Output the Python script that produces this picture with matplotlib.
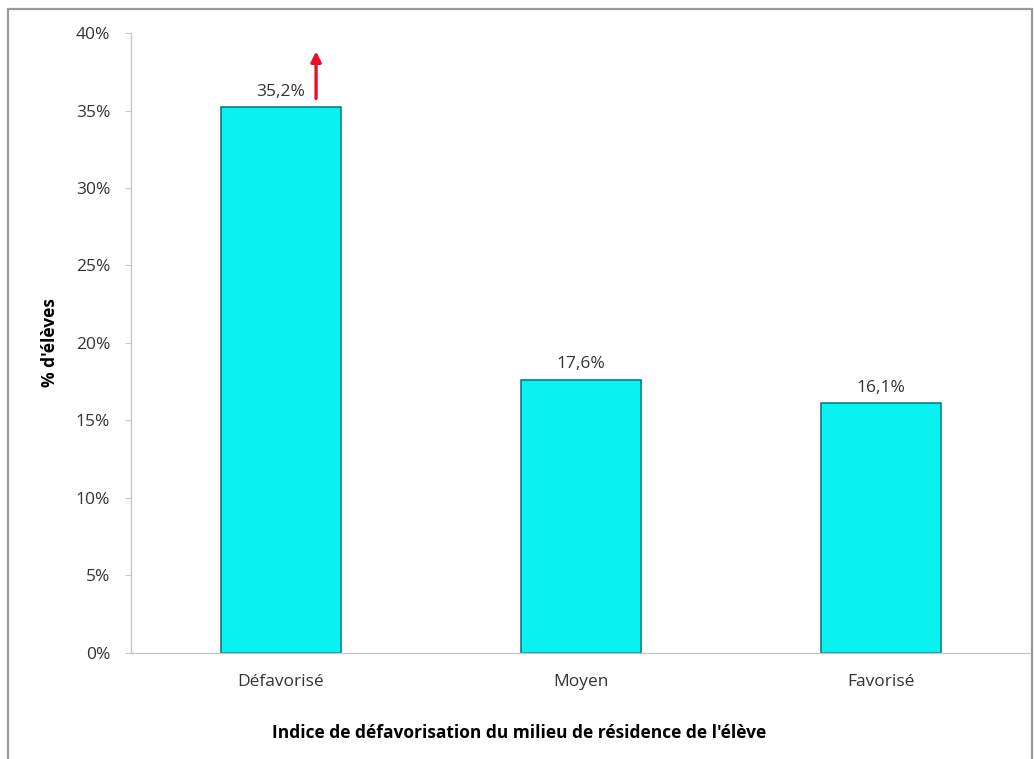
import matplotlib
matplotlib.use("Agg")
import matplotlib.pyplot as plt
from matplotlib.patches import Rectangle
from matplotlib.ticker import MultipleLocator, FuncFormatter

plt.rcParams['font.family'] = ['Open Sans', 'DejaVu Sans']

# Données
categories = ["Défavorisé", "Moyen", "Favorisé"]
valeurs = [35.2, 17.6, 16.1]
y_max = 40

fig = plt.figure(figsize=(10.34, 7.59), dpi=100)
ax = fig.add_axes([0.1267, 0.1397, 0.8703, 0.8168])

# Cadre gris autour du graphique
fig.patches.append(Rectangle((0.0077, -0.02), 0.9903, 1.008, transform=fig.transFigure,
                             fill=False, edgecolor="#9a9a9a", linewidth=1.6))

x = range(len(categories))
bars = ax.bar(x, valeurs, width=0.4, color="#08F2F2", edgecolor="#0b7f86", linewidth=1.2)

# Étiquettes de valeurs
for b, v in zip(bars, valeurs):
    ax.text(b.get_x() + b.get_width() / 2, v + 0.5, f"{v:.1f}%".replace(".", ","),
            ha="center", va="bottom", fontsize=12.5, color="#333333")

# Flèche rouge au-dessus de la première barre
ax.annotate("", xy=(0.117, 39.0), xytext=(0.117, 35.6),
            arrowprops=dict(arrowstyle="-|>", color="#e8102a", lw=2.4, mutation_scale=15))

ax.set_xlim(-0.5, len(categories) - 0.5)
ax.set_ylim(0, y_max)
ax.yaxis.set_major_locator(MultipleLocator(5))
ax.yaxis.set_major_formatter(FuncFormatter(lambda v, p: f"{v:.0f}%"))
ax.set_xticks(list(x))
ax.set_xticklabels(categories)

for side in ("top", "right"):
    ax.spines[side].set_visible(False)
for side in ("left", "bottom"):
    ax.spines[side].set_color("#c8c8c8")
    ax.spines[side].set_linewidth(1.0)

ax.tick_params(axis="y", direction="out", length=4, color="#c8c8c8",
               labelsize=12.5, labelcolor="#333333", pad=11)
ax.tick_params(axis="x", length=0, labelsize=12.5, labelcolor="#333333", pad=15)

ax.set_ylabel("% d'élèves", fontsize=12.5, fontweight="bold", labelpad=12)
ax.set_xlabel("Indice de défavorisation du milieu de résidence de l'élève",
              fontsize=12.5, fontweight="bold", va="center")
ax.xaxis.set_label_coords(0.431, -0.129)

fig.savefig("out.png", dpi=100)
